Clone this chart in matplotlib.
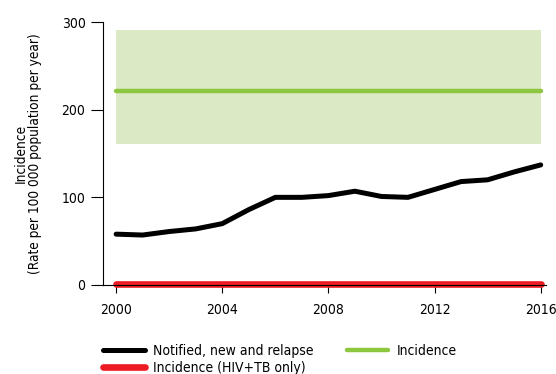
import matplotlib
matplotlib.use("Agg")
import matplotlib.pyplot as plt

years = list(range(2000, 2017))
notified = [58, 57, 61, 64, 70, 86, 100, 100, 102, 107, 101, 100, 109, 118, 120, 129, 137]
incidence = [221] * 17
inc_low = [161] * 17
inc_high = [291] * 17
hiv_tb = [1] * 17

plt.rcParams['font.family'] = ['DejaVu Sans']
plt.rcParams['font.stretch'] = 'condensed'

fig = plt.figure(figsize=(5.56, 3.74), dpi=100)
ax = fig.add_axes([0.185, 0.238, 0.797, 0.703])

ax.fill_between(years, inc_low, inc_high, color="#dbeac4", linewidth=0)
inc_line, = ax.plot(years, incidence, color="#8dc63f", lw=3.2, solid_capstyle="round")
not_line, = ax.plot(years, notified, color="black", lw=3.6, solid_capstyle="round")
hiv_line, = ax.plot(years, hiv_tb, color="#ed1c24", lw=4.8, solid_capstyle="round", clip_on=False)

ax.set_xlim(1999.5, 2016.2)
ax.set_ylim(0, 300)
ax.set_xticks([2000, 2004, 2008, 2012, 2016])
ax.set_yticks([0, 100, 200, 300])
for s in ["top", "right"]:
    ax.spines[s].set_visible(False)
for s in ["left", "bottom"]:
    ax.spines[s].set_linewidth(0.8)
ax.tick_params(axis="y", length=8.5, width=0.8, labelsize=10, pad=4)
ax.tick_params(axis="x", length=6, width=0.8, labelsize=10, pad=7)
ax.set_ylabel("Incidence\n(Rate per 100 000 population per year)", fontsize=9.8, labelpad=14,
              linespacing=1.0)

fig.legend([not_line, hiv_line, inc_line],
           ["Notified, new and relapse", "Incidence (HIV+TB only)", "Incidence"],
           ncol=2, loc="upper left", bbox_to_anchor=(0.175, 0.095), frameon=False,
           handlelength=3.0, handletextpad=0.6, columnspacing=2.4, labelspacing=0.2,
           fontsize=10, borderaxespad=0)

fig.savefig("out.png", dpi=100)
